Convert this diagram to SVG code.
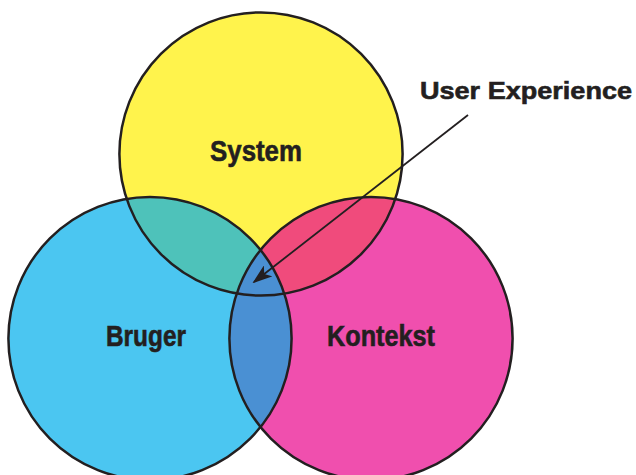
<svg xmlns="http://www.w3.org/2000/svg" width="636" height="475" viewBox="0 0 636 475">
  <style>
    .outline { fill: none; stroke: #231F20; stroke-width: 2.5; }
    .label { font-family: "Liberation Sans", Arial, sans-serif; font-weight: bold; fill: #231F20; stroke: #231F20; stroke-width: 0.6; }
    .big { font-size: 30px; }
    .ux { font-size: 24.5px; }
    .arrow { stroke: #231F20; stroke-width: 1.8; fill: none; }
  </style>
  <defs>
    <clipPath id="clipSystem"><circle cx="261" cy="154" r="141.6"/></clipPath>
    <clipPath id="clipBruger"><circle cx="150" cy="338.5" r="141.6"/></clipPath>
    <marker id="arrowhead" viewBox="0 0 20 14" refX="18" refY="7" markerWidth="20" markerHeight="14" markerUnits="userSpaceOnUse" orient="auto">
      <path d="M0,0 L20,7 L0,14 L5,7 Z" fill="#231F20"/>
    </marker>
  </defs>

  <g id="node-system">
    <circle cx="261" cy="154" r="141.6" fill="#FFF34C"/>
  </g>
  <g id="node-bruger">
    <circle cx="150" cy="338.5" r="141.6" fill="#4BC6F1"/>
  </g>
  <g id="node-kontekst">
    <circle cx="371" cy="338.5" r="141.6" fill="#F04FAE"/>
  </g>
  <g id="overlaps">
    <circle cx="150" cy="338.5" r="141.6" fill="#4EC2BA" clip-path="url(#clipSystem)"/>
    <circle cx="371" cy="338.5" r="141.6" fill="#F04B7C" clip-path="url(#clipSystem)"/>
    <circle cx="371" cy="338.5" r="141.6" fill="#4A90D3" clip-path="url(#clipBruger)"/>
  </g>
  <g id="outlines">
    <circle class="outline" cx="261" cy="154" r="141.6"/>
    <circle class="outline" cx="150" cy="338.5" r="141.6"/>
    <circle class="outline" cx="371" cy="338.5" r="141.6"/>
  </g>
  <g id="labels">
    <text class="label big" x="210" y="161" textLength="92" lengthAdjust="spacingAndGlyphs">System</text>
    <text class="label big" x="106" y="346" textLength="80" lengthAdjust="spacingAndGlyphs">Bruger</text>
    <text class="label big" x="327" y="346" textLength="108" lengthAdjust="spacingAndGlyphs">Kontekst</text>
  </g>
  <g id="node-user-experience">
    <text class="label ux" x="420" y="99" textLength="212" lengthAdjust="spacingAndGlyphs">User Experience</text>
  </g>
  <g id="connectors">
    <line class="arrow" x1="468" y1="115" x2="254" y2="282" marker-end="url(#arrowhead)"/>
  </g>
</svg>
